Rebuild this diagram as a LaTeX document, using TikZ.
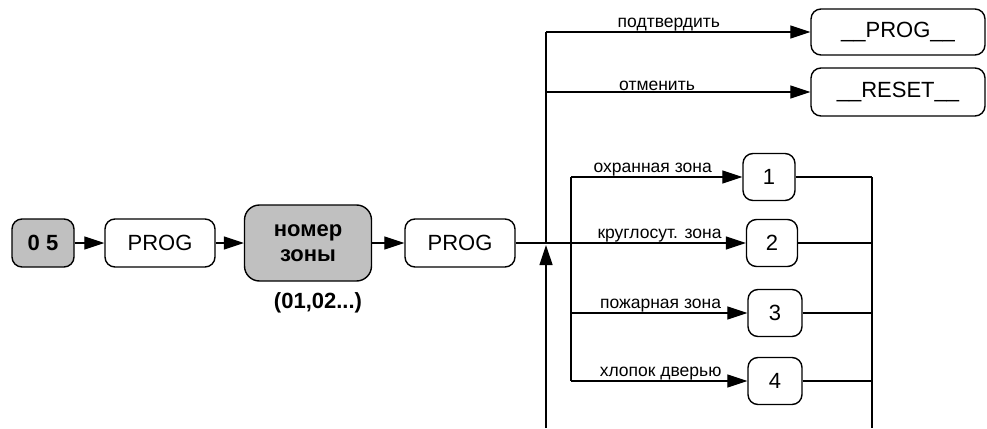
\documentclass[tikz,border=0pt]{standalone}
\usepackage{fontspec}
\setmainfont{Liberation Sans}
\usepackage{tikz}
\usetikzlibrary{arrows.meta,positioning}
\definecolor{keygray}{RGB}{192,192,192}

\tikzset{
	box/.style={draw,rounded corners=10pt,line width=1.4pt,inner sep=0pt,
		font=\fontsize{22}{26}\selectfont,align=center},
	keybox/.style={box,fill=keygray,font=\fontsize{22}{26}\selectfont\bfseries},
	conn/.style={line width=1.2pt},
	arr/.style={conn,-{Triangle[length=20pt,width=13pt]}},
	lbl/.style={above,inner sep=0.5pt,font=\fontsize{17.5}{19}\selectfont}
}

\begin{document}
\begin{tikzpicture}[x=1pt,y=-1pt]
	\useasboundingbox (0,0) rectangle (987,428);
	
	\coordinate[] (c05) at (43,243);
	\coordinate[] (cp1) at (160,243);
	\coordinate[] (czone) at (308,243);
	\coordinate[] (cp2) at (460,243);
	\coordinate[] (cok) at (898,32);
	\coordinate[] (crst) at (898,92);
	\coordinate[] (cz1) at (769,177);
	\coordinate[] (cz2) at (772,243);
	\coordinate[] (cz3) at (775,313);
	\coordinate[] (cz4) at (775,381);
	
	% boxes
	\node (k05) at (c05)[keybox,minimum width=62pt,minimum height=48pt]{0 5};
	\node (prog1) at (cp1)[box,minimum width=110pt,minimum height=48pt]{PROG};
	\node (zone) at (czone)[keybox,rounded corners=15pt,minimum width=127pt,minimum height=76pt]{номер\\[-1pt]зоны};
	\node (note) at (318,303)[font=\fontsize{22}{26}\selectfont\bfseries]{(01,02...)};
	\node (prog2) at (cp2)[box,minimum width=110pt,minimum height=48pt]{PROG};
	\node (ok) at (cok)[box,minimum width=174pt,minimum height=46pt]{\_\_PROG\_\_};
	\node (rst) at (crst)[box,minimum width=174pt,minimum height=48pt]{\_\_RESET\_\_};
	\node (z1) at (cz1)[box,minimum width=52pt,minimum height=47pt]{1};
	\node (z2) at (cz2)[box,minimum width=51pt,minimum height=47pt]{2};
	\node (z3) at (cz3)[box,minimum width=54pt,minimum height=47pt]{3};
	\node (z4) at (cz4)[box,minimum width=54pt,minimum height=47pt]{4};
	
	% bus lines
	\coordinate[] (j) at (546,243);
	\coordinate[] (top) at (546,32);
	\coordinate[] (mid) at (546,92);
	\coordinate[] (bot) at (546,428);
	\coordinate[] (i1) at (571,177);
	\coordinate[] (i4) at (571,381);
	\coordinate[] (r1) at (872,177);
	\coordinate[] (rb) at (872,428);
	
	\draw[arr](k05)--(prog1);
	\draw[arr](prog1)--(zone);
	\draw[arr](zone)--(prog2);
	\draw[arr](prog2)--node[lbl,pos=0.625](l2){круглосут. зона}(z2);
	
	\draw[arr,shorten >=2pt](bot)--(j);
	\draw[conn](j)--(top);
	\draw[arr](top)--node[lbl,pos=0.465](lok){подтвердить}(ok);
	\draw[arr](mid)--node[lbl,pos=0.42](lrst){отменить}(rst);
	
	\draw[conn](i1)--(i4);
	\draw[arr](i1)--node[lbl,pos=0.477](l1){охранная зона}(z1);
	\draw[arr](i1|-z3)--node[lbl,pos=0.508](l3){пожарная зона}(z3);
	\draw[arr](i4)--node[lbl,pos=0.508](l4){хлопок дверью}(z4);
	
	\draw[conn](r1)--(rb);
	\draw[conn](z1)--(r1);
	\draw[conn](z2)--(r1|-z2);
	\draw[conn](z3)--(r1|-z3);
	\draw[conn](z4)--(r1|-z4);
\end{tikzpicture}
\end{document}
